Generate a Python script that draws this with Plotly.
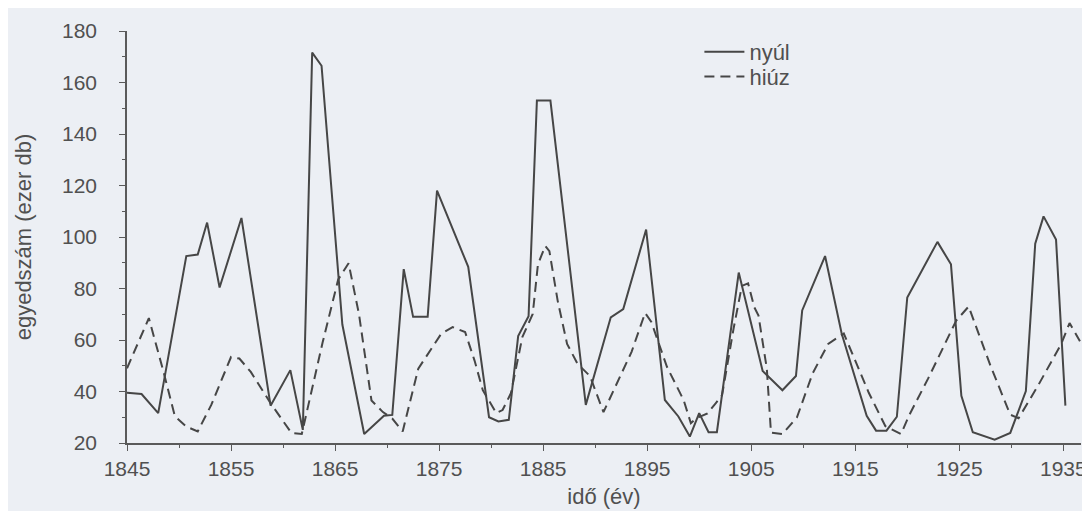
import plotly.graph_objects as go

# Hare (nyúl) – vertices (year, thousand individuals)
hare_years = [1845.0, 1846.4, 1848.0, 1850.7, 1851.8, 1852.7, 1853.9, 1856.0, 1858.8, 1860.7,
              1861.9, 1862.8, 1863.7, 1865.7, 1867.8, 1869.7, 1870.5, 1871.6, 1872.5, 1873.9,
              1874.8, 1877.8, 1879.8, 1880.7, 1881.7, 1882.6, 1883.6, 1884.4, 1885.7, 1889.1,
              1891.5, 1892.7, 1894.9, 1896.7, 1898.0, 1899.1, 1900.0, 1900.9, 1901.7, 1903.8,
              1906.1, 1908.0, 1909.3, 1909.9, 1912.1, 1913.7, 1916.1, 1917.0, 1918.0, 1919.0,
              1920.0, 1922.9, 1924.2, 1925.2, 1926.3, 1928.4, 1929.9, 1931.4, 1932.3, 1933.1,
              1934.3, 1935.2]
hare_values = [39.5, 39, 31.6, 92.6, 93.2, 105.6, 80.4, 107.4, 34.5, 48.3,
               25.1, 171.6, 166.5, 66, 23.5, 30.6, 30.9, 87.5, 69, 69,
               118, 88.4, 30, 28.4, 29, 61.5, 69.2, 153, 153, 34.8,
               68.8, 72, 102.9, 36.7, 30.3, 22.5, 31.6, 24.2, 24.2, 86.2,
               48, 40.5, 46, 71.5, 92.6, 62.4, 30.6, 24.8, 24.8, 30.2,
               76.5, 98.1, 89.4, 38.3, 24.2, 21.3, 23.9, 40.2, 97.4, 108,
               99, 34.5]

# Lynx (hiúz)
lynx_years = [1845.0, 1847.1, 1848.5, 1849.6, 1850.7, 1851.8, 1853.1, 1855.0, 1855.8, 1856.9,
              1858.8, 1860.8, 1861.8, 1863.8, 1865.3, 1866.3, 1867.3, 1868.5, 1869.6, 1870.5,
              1871.5, 1873.0, 1875.2, 1876.3, 1877.5, 1878.4, 1879.2, 1880.5, 1881.1, 1881.9,
              1883.0, 1884.0, 1884.5, 1885.2, 1885.6, 1886.4, 1887.3, 1888.3, 1889.5, 1890.8,
              1893.5, 1894.8, 1895.4, 1896.9, 1898.5, 1899.2, 1899.7, 1900.8, 1901.6, 1902.2,
              1903.3, 1904.1, 1904.7, 1905.3, 1905.7, 1906.5, 1906.9, 1908.0, 1909.4, 1910.9,
              1912.4, 1913.9, 1916.3, 1917.9, 1919.4, 1920.2, 1922.0, 1923.5, 1924.7, 1925.9,
              1928.0, 1929.9, 1930.7, 1932.6, 1933.7, 1934.8, 1935.6, 1936.6]
lynx_values = [49, 68.5, 47.8, 30.4, 26.4, 24.5, 34.8, 53.4, 52.8, 47.6,
               35.5, 23.9, 23.5, 59, 83.5, 89.8, 70, 36.5, 32, 29.5,
               24.5, 48.9, 62.4, 65, 63.1, 52.1, 40.5, 31.6, 32.8, 39.3,
               61.1, 70.1, 89.4, 96.5, 94.5, 75.2, 58.5, 50.8, 46, 32,
               55.4, 70.5, 67, 49.6, 36.7, 27.7, 29.6, 31.5, 35.5, 38.6,
               64.3, 81, 82, 72.7, 69.5, 48.9, 24, 23.5, 30, 47,
               58.5, 62.5, 39.5, 26.5, 23.5, 30.9, 45, 57.3, 67.5, 73,
               50, 31, 29.6, 42.5, 50.4, 58.5, 66.6, 59.5]

x_ticks = [1845, 1855, 1865, 1875, 1885, 1895, 1905, 1915, 1925, 1935]
y_ticks = [20, 40, 60, 80, 100, 120, 140, 160, 180]

line_col = "#464646"
axis_col = "#5a5a5a"
text_col = "#505050"
bg = "#eceff4"
font_family = "Liberation Sans, Arial, sans-serif"

fig = go.Figure()
fig.add_trace(go.Scatter(x=hare_years, y=hare_values, mode="lines", name="nyúl",
                         legend="legend",
                         line=dict(color=line_col, width=2)))
fig.add_trace(go.Scatter(x=lynx_years, y=lynx_values, mode="lines", name="hiúz",
                         legend="legend2",
                         line=dict(color=line_col, width=2, dash="10px,6px")))

legend_common = dict(xanchor="left", yanchor="top", bgcolor="rgba(0,0,0,0)",
                     font=dict(size=22, color=text_col), itemwidth=40)

fig.update_layout(
    width=1090, height=511,
    margin=dict(l=119, r=11, t=20, b=76),
    paper_bgcolor=bg, plot_bgcolor=bg,
    font=dict(family=font_family, size=19, color=text_col),
    showlegend=True,
    legend=dict(x=0.6, y=1.0, **legend_common),
    legend2=dict(x=0.6, y=0.94, **legend_common),
    xaxis=dict(range=[1845, 1936.7], tickvals=x_ticks, showgrid=False, zeroline=False,
               showline=True, linecolor=axis_col, linewidth=1.5,
               ticks="outside", ticklen=6, tickcolor=axis_col, tickwidth=1.2,
               minor=dict(dtick=5, tick0=1845, ticks="outside", ticklen=3,
                          tickcolor=axis_col, showgrid=False),
               title=dict(text="idő (év)", standoff=10, font=dict(size=22)),
               tickfont=dict(size=21)),
    yaxis=dict(range=[20, 180], tickvals=y_ticks, showgrid=False, zeroline=False,
               showline=True, linecolor=axis_col, linewidth=1.5,
               ticks="outside", ticklen=6, tickcolor=axis_col, tickwidth=1.2,
               minor=dict(dtick=10, tick0=20, ticks="outside", ticklen=3,
                          tickcolor=axis_col, showgrid=False),
               ticklabelstandoff=18,
               title=dict(text="egyedszám (ezer db)", standoff=24, font=dict(size=22)),
               tickfont=dict(size=21)),
)

fig.write_html("out.html")
